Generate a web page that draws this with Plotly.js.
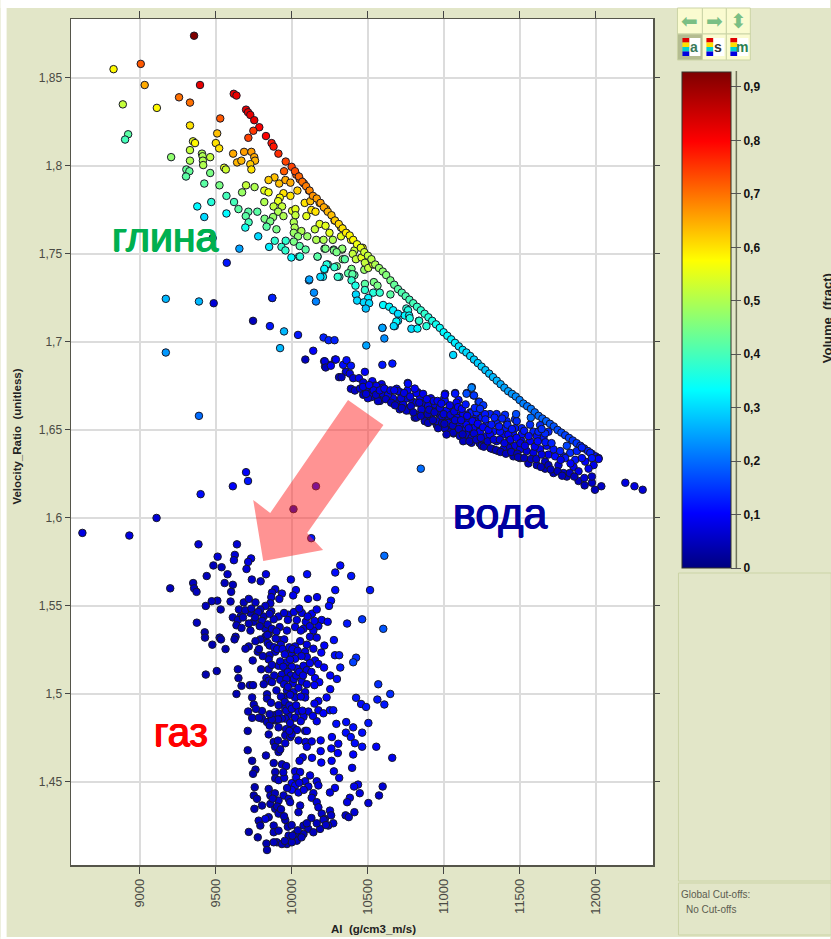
<!DOCTYPE html>
<html><head><meta charset="utf-8">
<script src="https://cdn.plot.ly/plotly-3.0.1.min.js"></script>
<style>html,body{margin:0;padding:0;background:#fff;overflow:hidden}#chart{width:831px;height:939px}</style>
</head><body><div id="chart"></div>
<script>
// Each row: AI, Velocity_Ratio, Volume
const strayPoints=[[9172,1.7245,.27],[9390,1.723,.27],[9487,1.722,.07],[9872,1.725,.14],[9746,1.712,.05],[9857,1.709,.12],[9950,1.706,.27],[10042,1.704,.12],[9924,1.6965,.27],[9172,1.694,.24],[10142,1.695,.1],[10090,1.69,.05],[10210,1.7025,.13],[10243,1.701,.13],[10282,1.701,.13],[10214,1.689,.1],[10220,1.686,.07],[10253,1.687,.1],[10286,1.69,.1],[10312,1.68,.06],[9390,1.658,.2],[9700,1.626,.1],[9713,1.621,.12],[9613,1.618,.1],[9401,1.6135,.11],[10160,1.618,.1],[10012,1.605,.05],[9111,1.6,.07],[8623,1.5915,.08],[8932,1.59,.08],[10129,1.5885,.12],[10850,1.628,.2],[12196,1.62,.08],[12256,1.618,.08],[12310,1.616,.07],[12038,1.618,.06],[11996,1.616,.05],[11928,1.6185,.05],[11976,1.62,.06],[11888,1.621,.05],[10597,1.687,.12],[10663,1.6877,.12]];
const clayPoints=[[9358,1.874,.93],[8828,1.855,.58],[9007,1.858,.72],[9033,1.846,.65],[9397,1.846,.82],[8889,1.835,.52],[9113,1.833,.58],[9259,1.839,.7],[9331,1.836,.7],[9619,1.841,.82],[9637,1.84,.82],[9530,1.827,.72],[9331,1.823,.6],[9700,1.832,.82],[9713,1.8305,.82],[9728,1.829,.82],[9754,1.826,.82],[9787,1.822,.8],[9748,1.82,.75],[9715,1.816,.74],[9510,1.8185,.63],[8924,1.818,.42],[8904,1.815,.4],[9831,1.817,.8],[9351,1.814,.55],[9364,1.813,.58],[9501,1.813,.6],[9523,1.81,.6],[9868,1.813,.78],[9881,1.811,.78],[9687,1.808,.66],[9735,1.808,.66],[9913,1.807,.76],[9331,1.809,.52],[9410,1.807,.5],[9615,1.807,.65],[9754,1.805,.65],[9414,1.8055,.5],[9464,1.805,.52],[9207,1.805,.47],[9331,1.803,.5],[9416,1.803,.5],[9641,1.802,.64],[9669,1.803,.64],[9759,1.803,.64],[9728,1.801,.62],[9418,1.8005,.5],[9961,1.8025,.74],[9950,1.797,.72],[10031,1.795,.72],[9556,1.799,.55],[9567,1.798,.53],[9735,1.798,.6],[9307,1.798,.43],[9327,1.797,.43],[9464,1.796,.45],[9305,1.794,.42],[9887,1.7935,.63],[9848,1.792,.62],[9918,1.79,.63],[9959,1.792,.65],[9992,1.7905,.65],[10053,1.7925,.7],[10081,1.79,.7],[9425,1.79,.42],[9525,1.789,.45],[9700,1.789,.52],[9756,1.788,.5],[9674,1.785,.48],[9820,1.786,.55],[9848,1.785,.56],[10038,1.786,.62],[9946,1.7845,.6],[9992,1.783,.6],[9922,1.782,.57],[10114,1.786,.68],[10144,1.782,.67],[9571,1.783,.4],[9621,1.7795,.4],[9471,1.7795,.37],[9820,1.7795,.5],[9911,1.78,.55],[10086,1.779,.6],[10123,1.78,.63],[10184,1.779,.65],[9379,1.777,.33],[9650,1.7755,.42],[9881,1.777,.52],[9937,1.777,.52],[9911,1.774,.5],[10003,1.7745,.55],[10025,1.7755,.55],[10129,1.775,.6],[10157,1.774,.6],[10227,1.7755,.64],[9571,1.773,.33],[9715,1.774,.42],[9774,1.774,.42],[9698,1.7715,.42],[9946,1.7715,.5],[10025,1.772,.52],[10097,1.7715,.55],[9425,1.771,.3],[9822,1.77,.45],[9878,1.771,.48],[9859,1.7685,.45],[9717,1.768,.4],[10014,1.768,.5],[10184,1.767,.55],[10223,1.766,.55],[10282,1.769,.62],[10325,1.765,.6],[9835,1.7655,.42],[9695,1.765,.35],[9900,1.764,.45],[10020,1.765,.5],[10153,1.764,.52],[10064,1.763,.5],[10249,1.762,.55],[10358,1.762,.58],[10014,1.762,.48],[9780,1.76,.3],[10103,1.76,.48],[10042,1.76,.47],[10014,1.757,.45],[10162,1.758,.5],[10210,1.758,.5],[10271,1.758,.5],[10325,1.76,.55],[10391,1.758,.58],[9480,1.759,.2],[9889,1.7575,.38],[9961,1.7575,.38],[9852,1.754,.32],[9656,1.753,.25],[9933,1.754,.38],[10053,1.7545,.42],[10092,1.7525,.42],[9959,1.752,.38],[10216,1.753,.45],[10277,1.7525,.45],[10332,1.7525,.48],[10413,1.752,.52],[10467,1.7535,.58],[9998,1.748,.33],[10049,1.7485,.38],[10171,1.7485,.42],[10336,1.747,.47],[10402,1.75,.52],[9573,1.745,.12],[10238,1.744,.42],[10216,1.741,.42],[10297,1.743,.45],[10380,1.739,.42],[10413,1.738,.42],[10478,1.741,.48],[10314,1.737,.4],[10206,1.737,.33],[10114,1.735,.28],[10394,1.7415,.45],[10372,1.739,.42],[10400,1.7385,.42],[10394,1.735,.38],[10420,1.732,.36],[10482,1.733,.42],[10541,1.734,.45],[10565,1.732,.45],[10482,1.7295,.38],[10537,1.728,.37],[10423,1.727,.3],[10431,1.7235,.3],[10504,1.725,.32],[10475,1.7225,.3],[10510,1.722,.3],[10488,1.719,.28],[10580,1.728,.38],[10650,1.727,.42],[10602,1.721,.33],[10642,1.72,.33],[10668,1.718,.32],[10700,1.716,.3],[10755,1.719,.38],[10766,1.718,.36],[10745,1.715,.33],[10773,1.715,.33],[10700,1.712,.3],[10679,1.709,.28],[10598,1.708,.27],[10788,1.7075,.3],[10837,1.712,.33],[10223,1.753,.45],[10278,1.752,.45],[10333,1.753,.47],[10296,1.751,.45],[10350,1.747,.42],[10423,1.747,.52],[10460,1.748,.55],[10482,1.745,.52],[10504,1.742,.52],[10537,1.744,.55],[10230,1.744,.37],[10215,1.7415,.33],[10281,1.7425,.38],[10189,1.737,.3],[10303,1.737,.38],[10116,1.7355,.25],[10147,1.728,.23],[10160,1.723,.22],[9873,1.725,.13],[10170,1.7485,.42],[10055,1.7485,.37],[11063,1.6926,.3],[10887,1.709,.37],[10828,1.7076,.33],[10839,1.712,.38],[10689,1.7116,.33],[10672,1.709,.3],[10777,1.7135,.36],[10597,1.708,.25],[10610,1.702,.23],[10491,1.698,.25]];
const edgePoints=[[10000,1.7995,.74],[10022,1.797,.73],[10048,1.794,.71],[10070,1.791,.7],[10095,1.7885,.69],[10118,1.786,.68],[10140,1.783,.67],[10165,1.7815,.66],[10190,1.779,.66],[10212,1.7765,.65],[10238,1.774,.64],[10262,1.772,.63],[10285,1.769,.62],[10310,1.767,.61],[10335,1.7645,.6],[10358,1.762,.59],[10382,1.7605,.58],[10405,1.758,.58],[10430,1.7555,.56],[10455,1.7535,.55],[10478,1.751,.53],[10502,1.749,.52],[10525,1.747,.51],[10550,1.744,.5],[10575,1.742,.48],[10600,1.74,.47],[10622,1.738,.46],[10650,1.735,.45],[10675,1.7325,.43],[10700,1.73,.42],[10725,1.728,.41],[10750,1.726,.41],[10775,1.724,.4],[10800,1.722,.4],[10825,1.72,.39],[10850,1.718,.38],[10875,1.716,.38],[10900,1.714,.37],[10925,1.712,.36],[10950,1.71,.35],[10975,1.708,.34],[11000,1.7055,.33],[11025,1.7035,.33],[11050,1.7015,.32],[11075,1.6995,.32],[11100,1.6975,.31],[11125,1.6955,.31],[11150,1.694,.3],[11175,1.692,.3],[11200,1.69,.29],[11225,1.688,.29],[11250,1.686,.29],[11275,1.684,.28],[11300,1.682,.28],[11325,1.68,.27],[11350,1.678,.27],[11375,1.676,.26],[11400,1.674,.25],[11425,1.672,.25],[11450,1.6705,.24],[11475,1.669,.23],[11500,1.667,.22],[11525,1.665,.22],[11550,1.6635,.21],[11575,1.662,.21],[11600,1.66,.2],[11625,1.658,.2],[11650,1.6565,.19],[11675,1.655,.19],[11700,1.6535,.18],[11725,1.652,.18],[11750,1.65,.17],[11775,1.6485,.17],[11800,1.647,.16],[11825,1.6455,.16],[11850,1.644,.15],[11875,1.6425,.15],[11900,1.641,.14],[11925,1.6395,.13],[11950,1.638,.13],[11975,1.6365,.12],[12000,1.635,.11],[12020,1.634,.1]];
const waterPoints=[[10218,1.689,.08],[10224,1.6855,.05],[10258,1.6865,.1],[10291,1.69,.1],[10339,1.687,.11],[10361,1.6896,.11],[10390,1.6865,.12],[10357,1.683,.07],[10482,1.683,.1],[10383,1.682,.08],[10328,1.68,.05],[10405,1.6794,.07],[10443,1.6794,.09],[10471,1.677,.07],[10531,1.6777,.1],[10390,1.6734,.06],[10416,1.6724,.06],[10471,1.67,.05],[10504,1.6734,.07],[10548,1.6752,.08],[10592,1.676,.09],[10526,1.6687,.06],[10564,1.6696,.06],[10581,1.6665,.05],[10599,1.6706,.07],[10636,1.6706,.08],[10691,1.6734,.08],[10713,1.6715,.08],[10764,1.6767,.11],[10762,1.6724,.1],[10702,1.666,.06],[10735,1.664,.05],[10768,1.6612,.05],[10753,1.6678,.07],[10797,1.666,.07],[10828,1.6715,.1],[10823,1.6584,.05],[10845,1.6687,.09],[10856,1.663,.06],[10878,1.665,.07],[10878,1.6556,.05],[10916,1.668,.09],[10922,1.663,.07],[10911,1.6575,.05],[10955,1.664,.08],[10944,1.6547,.05],[10966,1.6594,.06],[11010,1.6706,.12],[11004,1.668,.11],[11076,1.671,.13],[10977,1.652,.05],[11021,1.66,.08],[11032,1.6556,.06],[11065,1.663,.09],[11098,1.667,.11],[11153,1.671,.17],[11186,1.6743,.22],[11197,1.6696,.17],[11230,1.666,.15],[11054,1.65,.05],[11109,1.6584,.09],[11087,1.653,.07],[11142,1.6556,.09],[11131,1.65,.07],[11175,1.66,.11],[11208,1.6565,.11],[11230,1.66,.13],[11219,1.65,.09],[11186,1.6463,.06],[11237,1.6425,.06],[11164,1.647,.06],[11065,1.648,.05],[11010,1.651,.05],[10955,1.6528,.05],[11085,1.6655,.1],[11052,1.6626,.09],[11019,1.661,.1],[10986,1.657,.07],[10953,1.655,.07],[11030,1.654,.08],[11085,1.657,.09],[11129,1.659,.1],[11162,1.655,.1],[11184,1.6598,.12],[11217,1.66,.13],[11250,1.657,.12],[11195,1.651,.1],[11140,1.651,.09],[11085,1.649,.07],[11041,1.649,.06],[11008,1.651,.06],[11107,1.6465,.06],[11151,1.6474,.07],[11184,1.6455,.08],[11239,1.649,.1],[11283,1.653,.12],[11305,1.659,.13],[11349,1.654,.13],[11404,1.651,.12],[11393,1.6474,.1],[11327,1.649,.11],[11283,1.6465,.09],[11239,1.6427,.07],[11349,1.6436,.08],[11426,1.6436,.09],[11459,1.6474,.11],[11514,1.651,.13],[11470,1.651,.12],[11514,1.6474,.11],[11569,1.653,.14],[11591,1.649,.13],[11635,1.6527,.14],[11690,1.649,.13],[11657,1.6455,.12],[11613,1.6465,.11],[11569,1.6436,.1],[11514,1.6436,.09],[11470,1.641,.08],[11426,1.64,.06],[11459,1.635,.05],[11503,1.634,.05],[11547,1.638,.07],[11591,1.637,.08],[11635,1.639,.1],[11679,1.641,.11],[11690,1.636,.09],[11734,1.635,.11],[11668,1.632,.06],[11613,1.63,.05],[11558,1.631,.05],[11668,1.628,.05],[11723,1.6255,.05],[11756,1.63,.07],[11789,1.635,.12],[11833,1.637,.14],[11877,1.638,.13],[11910,1.64,.13],[11965,1.637,.13],[12020,1.6335,.1],[11987,1.63,.09],[11954,1.628,.09],[11932,1.632,.1],[11866,1.633,.12],[11855,1.629,.09],[11811,1.6235,.05],[11888,1.6265,.08],[11976,1.6235,.06],[11926,1.6227,.07],[11789,1.6255,.06],[11360,1.638,.06],[11327,1.639,.06],[11250,1.641,.06],[11184,1.6427,.06],[11129,1.6436,.05],[11063,1.6484,.05],[11393,1.639,.07],[11503,1.639,.08],[11426,1.6474,.1],[11371,1.649,.11],[11305,1.6474,.1],[11107,1.653,.09],[11151,1.653,.1],[11206,1.655,.11],[11272,1.659,.12],[11349,1.659,.13],[11415,1.655,.13],[11470,1.656,.14],[11723,1.639,.12],[11767,1.638,.13],[11811,1.641,.16],[11800,1.634,.12],[11910,1.634,.11],[11976,1.634,.12],[11624,1.649,.13],[11668,1.648,.14],[11481,1.655,.14],[11008,1.6664,.11],[10942,1.6645,.08],[10898,1.6636,.08],[10843,1.659,.07],[10810,1.657,.06],[10920,1.659,.07],[10876,1.655,.05],[10821,1.657,.05],[10777,1.6626,.07],[10733,1.6645,.08],[10700,1.672,.08],[10667,1.668,.08],[10634,1.67,.09],[10601,1.674,.1],[10557,1.675,.09],[10524,1.671,.08],[10502,1.668,.07],[10568,1.6664,.06],[10711,1.6617,.06],[10755,1.661,.06],[10821,1.6655,.08],[10854,1.6617,.07],[10898,1.654,.05],[10964,1.651,.05],[11019,1.6474,.05],[10766,1.6763,.11],[10821,1.671,.1],[11184,1.674,.22],[11151,1.6706,.17],[11200,1.6696,.15],[11235,1.666,.15],[11261,1.664,.15],[11477,1.659,.17],[11574,1.657,.2],[11404,1.6586,.14],[11076,1.6706,.12],[11008,1.67,.1]];
const waterFillPoints=[[10450,1.6735,.07],[10470,1.6745,.08],[10490,1.6705,.07],[10510,1.6755,.1],[10540,1.6725,.08],[10555,1.67,.06],[10580,1.6725,.08],[10610,1.6735,.09],[10620,1.6675,.06],[10650,1.6725,.08],[10655,1.6655,.05],[10675,1.6725,.09],[10680,1.664,.05],[10720,1.668,.07],[10740,1.671,.08],[10725,1.6625,.05],[10780,1.669,.08],[10785,1.6635,.06],[10800,1.66,.05],[10810,1.6735,.1],[10840,1.6655,.07],[10850,1.658,.05],[10865,1.6705,.09],[10890,1.6675,.09],[10895,1.659,.05],[10905,1.6615,.06],[10935,1.6665,.09],[10940,1.66,.06],[10930,1.6555,.05],[10960,1.6665,.09],[10975,1.6625,.08],[10990,1.654,.05],[10985,1.665,.09],[11000,1.659,.07],[11005,1.6535,.05],[11040,1.664,.09],[11045,1.6585,.07],[11060,1.6525,.06],[11070,1.6605,.08],[11075,1.6555,.07],[11095,1.663,.1],[11100,1.6505,.06],[11115,1.6555,.08],[11120,1.662,.1],[11125,1.6475,.05],[11145,1.6645,.12],[11155,1.658,.09],[11165,1.651,.08],[11170,1.6435,.05],[11190,1.655,.1],[11200,1.648,.07],[11205,1.6625,.13],[11215,1.6445,.06],[11225,1.6535,.1],[11240,1.662,.14],[11245,1.6455,.07],[11260,1.6515,.1],[11265,1.6405,.05],[11275,1.656,.12],[11290,1.6435,.06],[11295,1.65,.1],[11310,1.6395,.05],[11315,1.653,.12],[11330,1.6445,.08],[11335,1.657,.13],[11345,1.6385,.05],[11365,1.652,.12],[11370,1.6445,.08],[11375,1.6375,.05],[11385,1.6565,.13],[11400,1.6425,.08],[11410,1.6365,.05],[11420,1.653,.13],[11440,1.6445,.09],[11445,1.6375,.06],[11450,1.6505,.12],[11480,1.6455,.1],[11485,1.6365,.05],[11490,1.6345,.05],[11505,1.6425,.08],[11530,1.6495,.12],[11535,1.641,.08],[11530,1.634,.05],[11560,1.6465,.11],[11575,1.6335,.05],[11600,1.6405,.09],[11610,1.6335,.06],[11620,1.6435,.11],[11645,1.636,.08],[11645,1.6505,.14],[11640,1.629,.05],[11670,1.643,.12],[11690,1.63,.05],[11705,1.6275,.05],[11710,1.6425,.13],[11750,1.6265,.05],[11770,1.633,.09],[11780,1.624,.05],[11830,1.6255,.06],[11835,1.631,.1],[11860,1.6235,.05]];
const gasPoints=[[9387,1.585,.07],[9640,1.585,.07],[9513,1.578,.07],[9626,1.579,.07],[9620,1.576,.07],[9485,1.573,.05],[9539,1.572,.05],[9733,1.577,.08],[9714,1.575,.08],[9703,1.571,.07],[9441,1.567,.05],[9578,1.568,.06],[9831,1.568,.08],[9738,1.565,.06],[9796,1.564,.06],[9559,1.563,.05],[9613,1.562,.05],[9995,1.565,.08],[10102,1.568,.11],[10320,1.573,.11],[10287,1.569,.11],[10392,1.567,.12],[10610,1.5785,.2],[9201,1.56,.05],[9352,1.563,.05],[9358,1.56,.05],[9374,1.558,.05],[9602,1.558,.05],[9892,1.5595,.07],[9871,1.5576,.07],[9936,1.557,.08],[10028,1.559,.09],[10010,1.556,.09],[10108,1.554,.09],[10167,1.555,.09],[10287,1.559,.11],[10516,1.559,.12],[9919,1.554,.07],[9866,1.555,.07],[9598,1.5525,.05],[9511,1.553,.05],[9474,1.5527,.05],[9435,1.55,.05],[9533,1.548,.05],[9685,1.552,.05],[9718,1.554,.06],[9762,1.552,.06],[9860,1.5515,.06],[9827,1.55,.06],[9794,1.548,.05],[10259,1.553,.11],[10246,1.55,.11],[9653,1.548,.05],[9729,1.546,.05],[9866,1.547,.06],[9816,1.544,.05],[9914,1.544,.07],[9980,1.545,.08],[10067,1.546,.08],[10134,1.5456,.09],[9613,1.5435,.05],[9664,1.544,.05],[9646,1.542,.05],[9882,1.5424,.06],[9975,1.542,.07],[10034,1.542,.08],[10093,1.541,.08],[10198,1.542,.09],[10237,1.541,.1],[10365,1.54,.12],[10464,1.5424,.15],[9376,1.5405,.05],[9637,1.539,.05],[9751,1.541,.05],[9718,1.54,.05],[9921,1.538,.06],[10023,1.538,.08],[10078,1.537,.08],[10176,1.5386,.08],[10143,1.536,.08],[10603,1.537,.18],[9428,1.535,.04],[9729,1.536,.05],[9827,1.537,.06],[9969,1.536,.07],[9849,1.534,.06],[10121,1.5325,.08],[10165,1.532,.08],[9631,1.5325,.05],[9624,1.531,.04],[9430,1.532,.04],[9526,1.532,.04],[9535,1.531,.04],[9478,1.528,.04],[9565,1.5255,.04],[9827,1.5325,.06],[9794,1.531,.05],[9762,1.53,.05],[9718,1.527,.05],[9696,1.5257,.05],[10278,1.5306,.11],[9921,1.5306,.07],[9951,1.531,.07],[9929,1.528,.07],[9842,1.529,.06],[10056,1.53,.08],[10023,1.527,.08],[10100,1.528,.08],[10143,1.5257,.08],[9777,1.524,.05],[9892,1.524,.07],[9855,1.522,.06],[9969,1.524,.08],[10001,1.522,.08],[10089,1.524,.08],[10100,1.521,.08],[10285,1.522,.11],[10313,1.522,.12],[10424,1.5206,.14],[10405,1.518,.16],[9744,1.519,.05],[9849,1.5196,.06],[9914,1.516,.07],[9969,1.518,.08],[10023,1.52,.09],[10034,1.5145,.08],[10154,1.519,.09],[10176,1.517,.09],[10213,1.515,.1],[10320,1.515,.12],[9646,1.514,.04],[9799,1.514,.05],[9849,1.514,.06],[9958,1.5145,.08],[10001,1.5155,.08],[10078,1.516,.08],[10100,1.5135,.08],[9435,1.511,.04],[9507,1.513,.04],[10254,1.5105,.1],[9650,1.509,.04],[9834,1.509,.06],[9936,1.511,.07],[9925,1.508,.07],[9849,1.5075,.06],[10154,1.509,.1],[10298,1.5085,.11],[9670,1.5046,.04],[9725,1.505,.05],[9746,1.505,.05],[9816,1.5055,.05],[9871,1.5067,.06],[10067,1.507,.08],[10008,1.506,.08],[10100,1.5055,.08],[10182,1.5067,.1],[10150,1.505,.1],[10570,1.5055,.14],[10254,1.5027,.1],[9637,1.5,.04],[9969,1.502,.07],[10012,1.501,.08],[10089,1.501,.08],[9838,1.4998,.05],[9947,1.498,.07],[10649,1.5,.14],[9740,1.498,.05],[9838,1.4974,.05],[10023,1.498,.07],[10230,1.498,.1],[10424,1.4978,.12],[10564,1.4968,.12],[10089,1.498,.08],[9751,1.494,.05],[9864,1.495,.06],[9914,1.4936,.06],[9958,1.4945,.07],[10176,1.496,.09],[10457,1.4943,.11],[10490,1.4926,.12],[10610,1.494,.12],[9714,1.49,.05],[9740,1.4864,.05],[9805,1.4903,.05],[9892,1.488,.06],[9958,1.4917,.07],[9980,1.488,.07],[10045,1.49,.08],[10110,1.49,.08],[10176,1.4907,.09],[10252,1.4907,.11],[10274,1.4907,.11],[10209,1.489,.1],[9805,1.486,.05],[9838,1.484,.05],[9892,1.485,.06],[9958,1.486,.07],[10023,1.4865,.07],[10078,1.487,.08],[10165,1.4845,.09],[10294,1.483,.11],[10359,1.484,.11],[10505,1.4835,.12],[9855,1.482,.05],[9914,1.481,.06],[10012,1.4806,.07],[10405,1.481,.11],[9711,1.479,.04],[9849,1.477,.05],[9964,1.48,.06],[10089,1.479,.05],[10100,1.479,.08],[10357,1.478,.11],[10464,1.478,.11],[9958,1.4765,.06],[9991,1.4755,.07],[10045,1.4736,.08],[10091,1.4727,.08],[10132,1.473,.08],[10191,1.4736,.1],[10265,1.4755,.1],[10389,1.4755,.11],[9882,1.4727,.05],[9958,1.472,.07],[9892,1.47,.05],[9914,1.467,.05],[10100,1.47,.08],[10191,1.4675,.1],[10261,1.469,.1],[10307,1.4717,.1],[10416,1.472,.11],[10464,1.47,.11],[10557,1.47,.1],[9711,1.468,.04],[10304,1.4664,.1],[10405,1.4656,.1],[9831,1.465,.05],[10073,1.464,.08],[10052,1.462,.08],[10134,1.4637,.1],[10662,1.4637,.09],[9740,1.462,.04],[9882,1.4607,.05],[9936,1.46,.06],[9964,1.459,.06],[10195,1.461,.1],[10263,1.462,.1],[9762,1.457,.04],[9746,1.4546,.04],[9892,1.4556,.05],[10023,1.456,.08],[10056,1.4556,.08],[10398,1.458,.09],[10278,1.456,.09],[9892,1.452,.05],[9914,1.451,.06],[9951,1.4523,.07],[10121,1.4537,.08],[10089,1.4504,.08],[10313,1.4523,.09],[10001,1.4493,.1],[10023,1.448,.1],[10165,1.4504,.08],[10110,1.4474,.08],[9757,1.447,.04],[9849,1.446,.05],[10001,1.4455,.1],[10045,1.444,.08],[10176,1.448,.08],[10285,1.4466,.09],[10252,1.444,.08],[10437,1.4485,.09],[10411,1.4474,.09],[10599,1.4474,.07],[9751,1.4423,.04],[9772,1.4404,.04],[9860,1.4423,.05],[10143,1.4436,.07],[10132,1.441,.07],[9947,1.4423,.06],[9914,1.4394,.06],[9980,1.4404,.06],[10448,1.4436,.08],[10575,1.4423,.06],[10383,1.441,.08],[10365,1.4385,.08],[10505,1.438,.07],[9755,1.4347,.04],[9805,1.4366,.04],[9860,1.4375,.05],[9892,1.4347,.05],[9990,1.4385,.06],[10056,1.4366,.06],[10165,1.4385,.07],[10176,1.4356,.07],[10252,1.4337,.07],[9914,1.432,.05],[10045,1.4328,.06],[10198,1.432,.06],[10413,1.4328,.07],[10355,1.431,.06],[10376,1.43,.06],[9849,1.43,.05],[9783,1.428,.05],[9827,1.429,.08],[9958,1.4284,.05],[10219,1.429,.06],[9794,1.4252,.04],[9882,1.4252,.05],[10078,1.4252,.05],[10274,1.4265,.06],[10241,1.4252,.06],[10187,1.4233,.05],[9882,1.4214,.05],[9914,1.4223,.05],[10110,1.4233,.05],[10143,1.4214,.05],[9718,1.4216,.04],[9777,1.4185,.04],[10078,1.4204,.05],[9980,1.4195,.05],[10023,1.4204,.05],[9903,1.4157,.05],[9834,1.415,.04],[9969,1.4147,.05],[10034,1.4166,.05],[9838,1.4113,.04],[9882,1.4157,.05],[9936,1.4147,.05],[10001,1.4157,.05]];
const gasFillPoints=[[9780,1.5465,.06],[9805,1.5415,.06],[9842,1.5395,.06],[9870,1.537,.06],[9900,1.5355,.07],[9895,1.5315,.07],[9855,1.5275,.06],[9885,1.5265,.07],[9905,1.5255,.07],[9940,1.5255,.08],[9955,1.5225,.08],[9985,1.5265,.08],[9990,1.5195,.08],[10005,1.5255,.08],[10040,1.5245,.08],[10065,1.5215,.08],[9925,1.5185,.07],[9945,1.5155,.07],[9975,1.5125,.07],[9995,1.5105,.08],[10015,1.5085,.08],[9965,1.5085,.07],[9950,1.5055,.07],[9975,1.504,.07],[9990,1.4995,.07],[10030,1.5105,.08],[10050,1.5125,.08],[10075,1.5105,.08],[10120,1.5175,.09],[10130,1.5125,.09],[10195,1.5235,.1],[10215,1.5275,.1],[10060,1.536,.08],[10120,1.5385,.08],[10150,1.5415,.09],[10015,1.5465,.08],[10050,1.5485,.08],[10105,1.544,.08],[10165,1.548,.09],[9950,1.546,.07],[9855,1.5455,.06],[9760,1.5435,.05],[9695,1.5475,.05],[9680,1.5435,.05],[9670,1.5375,.05],[9735,1.5485,.05],[9790,1.5385,.05],[9840,1.5335,.06],[9785,1.5255,.05],[9810,1.5215,.05],[9870,1.5165,.06],[9885,1.5105,.06],[9900,1.502,.06],[9930,1.4985,.06],[9955,1.4955,.06],[9965,1.4905,.07],[9985,1.4935,.07],[10000,1.4915,.07],[10030,1.4935,.08],[9915,1.489,.06],[9935,1.486,.06],[9910,1.4855,.06],[9870,1.4855,.05],[9855,1.4885,.05],[9765,1.4915,.05],[9785,1.4865,.05],[9990,1.4835,.07],[10060,1.4845,.08],[10070,1.4905,.08],[10140,1.4875,.09],[10150,1.4945,.09],[10045,1.5035,.08],[10060,1.4985,.08],[10035,1.4795,.07],[10000,1.477,.07],[9985,1.479,.07],[9910,1.4735,.05],[9925,1.4685,.05],[9945,1.4555,.06],[9970,1.4465,.06],[10030,1.4525,.08],[10050,1.4495,.08],[10080,1.4455,.08],[9890,1.4435,.05],[9875,1.4405,.05],[9905,1.436,.05],[9930,1.4345,.05],[9950,1.4305,.05],[9975,1.4245,.05],[10000,1.4255,.05],[10040,1.4225,.05],[10065,1.4185,.05],[10005,1.4195,.05],[9955,1.4165,.05],[10210,1.4285,.06],[10225,1.4255,.06],[10260,1.431,.06],[10165,1.4265,.05],[10130,1.4295,.05],[10100,1.4265,.05]];
const xTickValues=[9000,9500,10000,10500,11000,11500,12000];
const yTickValues=[1.45,1.5,1.55,1.6,1.65,1.7,1.75,1.8,1.85];
const volumeTicks=[0,.1,.2,.3,.4,.5,.6,.7,.8,.9];
const arrowOutline=[[10371,1.667],[10604,1.6528],[10102,1.5915],[10207,1.5818],[9813,1.5756],[9747,1.6102],[9859,1.6028]];

const all=[...gasPoints,...gasFillPoints,...strayPoints,...clayPoints,...edgePoints,...waterPoints,...waterFillPoints];
const L=70.5,R=653.5,T=19,B=865;
const px=x=>(x-L)/(R-L), py=y=>(B-y)/(B-T);
const bg='#e2e6c8',edge='#cbd4a6',btn='#fafbd0';
const rect=(x0,y0,x1,y1,fill,line)=>({type:'rect',xref:'paper',yref:'paper',x0:px(x0),x1:px(x1),y0:py(y0),y1:py(y1),fillcolor:fill,line:{color:line||fill,width:line?1:0},layer:'above'});
const jet=[[0,'#00007f'],[.11,'#0000ff'],[.36,'#00ffff'],[.62,'#ffff00'],[.86,'#ff0000'],[1,'#7f0000']];
const shapes=[
 rect(0,0,831,8,'#fff'),rect(0,0,6,939,'#fff'),rect(0,937,831,939,'#fff'),
 rect(679,573,832,881,bg,edge),rect(679,883,832,935,bg,edge),
 rect(678,8,703,34,btn,edge),rect(703,8,727,34,btn,edge),rect(727,8,751,34,btn,edge),
 rect(678,34,703,60,'#b4bc90',edge),rect(703,34,727,60,btn,edge),rect(727,34,751,60,btn,edge),
 {type:'line',xref:'paper',yref:'paper',x0:px(737),x1:px(737),y0:py(71),y1:py(568),line:{color:'#70745a',width:1.5},layer:'above'},
 {type:'path',xref:'x',yref:'y',path:'M'+arrowOutline.map(p=>p.join(',')).join('L')+'Z',fillcolor:'rgba(255,40,40,0.5)',line:{width:0},layer:'above'}
];
// small rainbow icons on the toolbar
['#e00000','#ffe000','#00d0d0','#0000e0'].forEach((c,i)=>{[683,707,731].forEach(x=>shapes.push(rect(x,38+i*4.5,x+7,38+(i+1)*4.5,c)));});
[[690,701],[714,725],[738,749]].forEach(([a,b])=>shapes.push(rect(a,38,b,56,'#ffffff')));
const family='Liberation Sans, Arial, sans-serif';
const note=(text,x,y,size,color,opts)=>Object.assign({text,xref:'paper',yref:'paper',x:px(x),y:py(y),showarrow:false,xanchor:'center',yanchor:'middle',font:{size,color,family}},opts||{});
const heavy=(text,x,y,size,color)=>note(text,x,y,size,color,{font:{size,color,family,shadow:`0.7px 0 0 ${color}, -0.7px 0 0 ${color}, 0 0.5px 0 ${color}`}});
const arrowFont={size:20,color:'#7abf84',family:'DejaVu Sans'};
const annotations=[
 heavy('глина',165,237,41,'#00b050'),heavy('вода',500,513,43,'#0000a0'),heavy('газ',181,732,40,'#ff0000'),
 note('<b>Volume_(fract)</b>',828,318,13,'#222',{textangle:-90}),
 note('<b>AI  (g/cm3_m/s)</b>',374,929,11.5,'#222'),
 note('<b>Velocity_Ratio  (unitless)</b>',16,437,11.5,'#222',{textangle:-90}),
 note('Global Cut-offs:',680,894,10,'#5c5c50',{xanchor:'left'}),note('No Cut-offs',685,910,10,'#5c5c50',{xanchor:'left'}),
 note('⬅',690,21,17,'#7abf84',{font:arrowFont}),note('➡',715,21,17,'#7abf84',{font:arrowFont}),note('⬍',739,21,17,'#7abf84',{font:arrowFont}),
 note('<b>a</b>',695,47,14,'#3a7a5a'),note('<b>s</b>',719,47,14,'#333'),note('<b>m</b>',743,47,14,'#2a8050')
];
const trace={type:'scatter',mode:'markers',x:all.map(p=>p[0]),y:all.map(p=>p[1]),hoverinfo:'skip',
 marker:{size:7.5,color:all.map(p=>p[2]),cmin:0,cmax:.928,colorscale:jet,line:{color:'#181828',width:1},
  colorbar:{x:(683-L)/(R-L),xanchor:'left',xpad:0,ypad:0,y:py(72),yanchor:'top',thicknessmode:'pixels',thickness:49,lenmode:'pixels',len:496,
   outlinecolor:'#33332a',outlinewidth:1,tickmode:'array',tickvals:volumeTicks,tickformat:'.1~f',ticks:'outside',ticklen:10,tickcolor:'#555',
   tickfont:{size:12,color:'#111',family,weight:700}}}};
const axis={showgrid:true,gridcolor:'#dcdcdc',gridwidth:2,zeroline:false,showline:true,linecolor:'#55554a',linewidth:1.5,mirror:'ticks',ticks:'outside',tickcolor:'#444',tickmode:'array'};
Plotly.newPlot('chart',[trace],{
 width:831,height:939,autosize:false,separators:', ',paper_bgcolor:bg,plot_bgcolor:'#fff',showlegend:false,
 margin:{l:L,r:831-R,t:T,b:939-B,pad:0},
 xaxis:Object.assign({},axis,{range:[8548,12378],tickvals:xTickValues,tickformat:'d',tickangle:-90,ticklen:7,tickfont:{size:13,color:'#4a4a44',family}}),
 yaxis:Object.assign({},axis,{range:[1.4028,1.8835],tickvals:yTickValues,tickformat:'.2~f',ticklen:5,tickfont:{size:12,color:'#4a4a44',family}}),
 shapes,annotations
},{displayModeBar:false,staticPlot:true});
</script></body></html>
